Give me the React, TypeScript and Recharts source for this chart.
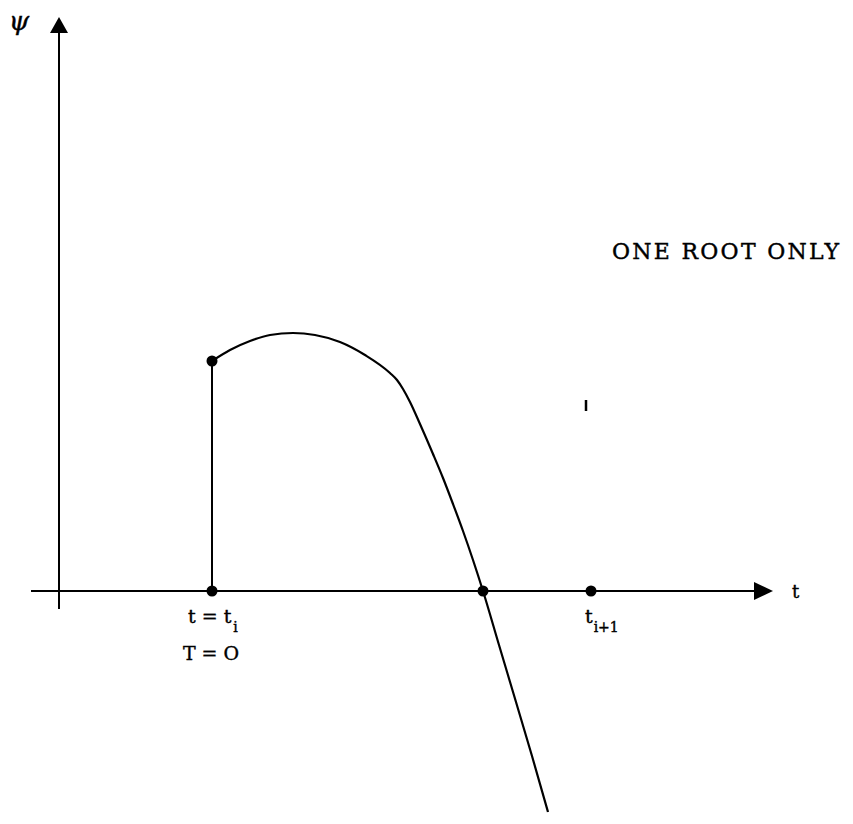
import {
  ComposedChart,
  Line,
  ReferenceLine,
  Scatter,
  XAxis,
  YAxis,
} from 'recharts'

const WIDTH = 853
const HEIGHT = 824
const FONT = '"DejaVu Serif", serif'
const INK = '#000'

// Axis units: 1 unit ~ 100px, origin where the two axes cross.
const X_DOMAIN: [number, number] = [-0.59, 7.94]
const Y_DOMAIN: [number, number] = [-2.33, 5.91]

// t values of the marked points on the t axis
const T_I = 1.53
const T_ROOT = 4.24
const T_NEXT = 5.32
const PHI_START = 2.3

// psi(t), from t_i past the root
const curveT = [
  1.53, 1.71, 1.91, 2.11, 2.34, 2.56, 2.81, 3.06, 3.31, 3.38, 3.44, 3.51,
  3.61, 3.74, 3.84, 3.94, 4.04, 4.14, 4.24, 4.4, 4.57, 4.73, 4.89,
]
const curvePhi = [
  2.3, 2.41, 2.5, 2.56, 2.58, 2.56, 2.49, 2.36, 2.18, 2.11, 2.02, 1.89,
  1.67, 1.37, 1.13, 0.87, 0.6, 0.31, 0, -0.54, -1.11, -1.65, -2.21,
]

// axis extents (start, arrow tip)
const tAxis = [-0.28, 7.14]
const phiAxis = [-0.18, 5.74]

const LABEL_TI = 't = t'
const LABEL_TI_SUB = 'i'
const LABEL_T0 = 'T = O'
const LABEL_TNEXT = 't'
const LABEL_TNEXT_SUB = 'i+1'
const LABEL_T_AXIS = 't'
const LABEL_PHI_AXIS = 'ψ'
const NOTE = 'ONE ROOT ONLY'

const curve = curveT.map((t, i) => ({ t, phi: curvePhi[i] }))

const dot = (p: any) => <circle cx={p.cx} cy={p.cy} r={5.5} fill={INK} />

// scanned type looks heavier than DejaVu regular, thicken it a bit
const textStyle = { fontFamily: FONT, fill: INK, stroke: INK, strokeWidth: 0.4 }

export default function App() {
  return (
    <div
      style={{
        position: 'absolute',
        left: 0,
        top: 0,
        width: WIDTH,
        height: HEIGHT,
        background: '#fff',
      }}
    >
      <ComposedChart
        width={WIDTH}
        height={HEIGHT}
        margin={{ top: 0, right: 0, bottom: 0, left: 0 }}
      >
        <XAxis type="number" dataKey="t" domain={X_DOMAIN} allowDataOverflow hide />
        <YAxis type="number" dataKey="phi" domain={Y_DOMAIN} allowDataOverflow hide width={0} />

        {/* axes */}
        <ReferenceLine
          segment={[{ x: tAxis[0], y: 0 }, { x: tAxis[1] - 0.15, y: 0 }]}
          stroke={INK}
          strokeWidth={2}
        />
        <ReferenceLine
          segment={[{ x: 0, y: phiAxis[0] }, { x: 0, y: phiAxis[1] - 0.1 }]}
          stroke={INK}
          strokeWidth={2}
        />
        {/* jump at t_i */}
        <ReferenceLine
          segment={[{ x: T_I, y: 0 }, { x: T_I, y: PHI_START }]}
          stroke={INK}
          strokeWidth={2}
        />

        <Line
          data={curve}
          dataKey="phi"
          type="monotone"
          stroke={INK}
          strokeWidth={2.2}
          dot={false}
          activeDot={false}
          isAnimationActive={false}
        />

        {/* arrow heads */}
        <Scatter
          data={[{ t: tAxis[1], phi: 0 }]}
          isAnimationActive={false}
          shape={(p: any) => (
            <polygon
              points={`${p.cx},${p.cy} ${p.cx - 19},${p.cy - 9} ${p.cx - 19},${p.cy + 9}`}
              fill={INK}
            />
          )}
        />
        <Scatter
          data={[{ t: 0, phi: phiAxis[1] }]}
          isAnimationActive={false}
          shape={(p: any) => (
            <polygon
              points={`${p.cx},${p.cy} ${p.cx - 9},${p.cy + 16} ${p.cx + 9},${p.cy + 16}`}
              fill={INK}
            />
          )}
        />

        {/* marked points */}
        <Scatter
          data={[
            { t: T_I, phi: 0 },
            { t: T_I, phi: PHI_START },
            { t: T_ROOT, phi: 0 },
            { t: T_NEXT, phi: 0 },
          ]}
          isAnimationActive={false}
          shape={dot}
        />

        {/* labels */}
        <Scatter
          data={[{ t: T_I, phi: 0 }]}
          isAnimationActive={false}
          shape={(p: any) => (
            <g style={textStyle}>
              <text x={p.cx - 24} y={p.cy + 32} fontSize={19}>
                {LABEL_TI}
                <tspan dx={2} dy={9} fontSize={14}>
                  {LABEL_TI_SUB}
                </tspan>
              </text>
              <text x={p.cx - 1} y={p.cy + 69} fontSize={19} textAnchor="middle">
                {LABEL_T0}
              </text>
            </g>
          )}
        />
        <Scatter
          data={[{ t: T_NEXT, phi: 0 }]}
          isAnimationActive={false}
          shape={(p: any) => (
            <text x={p.cx - 6} y={p.cy + 32} fontSize={19} style={textStyle}>
              {LABEL_TNEXT}
              <tspan dx={1} dy={9} fontSize={14}>
                {LABEL_TNEXT_SUB}
              </tspan>
            </text>
          )}
        />
        <Scatter
          data={[{ t: tAxis[1], phi: 0 }]}
          isAnimationActive={false}
          shape={(p: any) => (
            <text x={p.cx + 19} y={p.cy + 7} fontSize={18} style={textStyle}>
              {LABEL_T_AXIS}
            </text>
          )}
        />
        <Scatter
          data={[{ t: 0, phi: phiAxis[1] }]}
          isAnimationActive={false}
          shape={(p: any) => (
            <text
              x={p.cx - 40}
              y={p.cy + 13}
              fontSize={26}
              fontStyle="italic"
              textAnchor="middle"
              style={textStyle}
            >
              {LABEL_PHI_AXIS}
            </text>
          )}
        />
        <Scatter
          data={[{ t: 5.53, phi: 3.32 }]}
          isAnimationActive={false}
          shape={(p: any) => (
            <text
              x={p.cx}
              y={p.cy}
              fontSize={22}
              textLength={227}
              lengthAdjust="spacing"
              style={textStyle}
            >
              {NOTE}
            </text>
          )}
        />
        {/* stray mark in the scan */}
        <Scatter
          data={[{ t: 5.27, phi: 1.8 }]}
          isAnimationActive={false}
          shape={(p: any) => (
            <line x1={p.cx} y1={p.cy - 11} x2={p.cx} y2={p.cy} stroke={INK} strokeWidth={2.5} />
          )}
        />
      </ComposedChart>
    </div>
  )
}
